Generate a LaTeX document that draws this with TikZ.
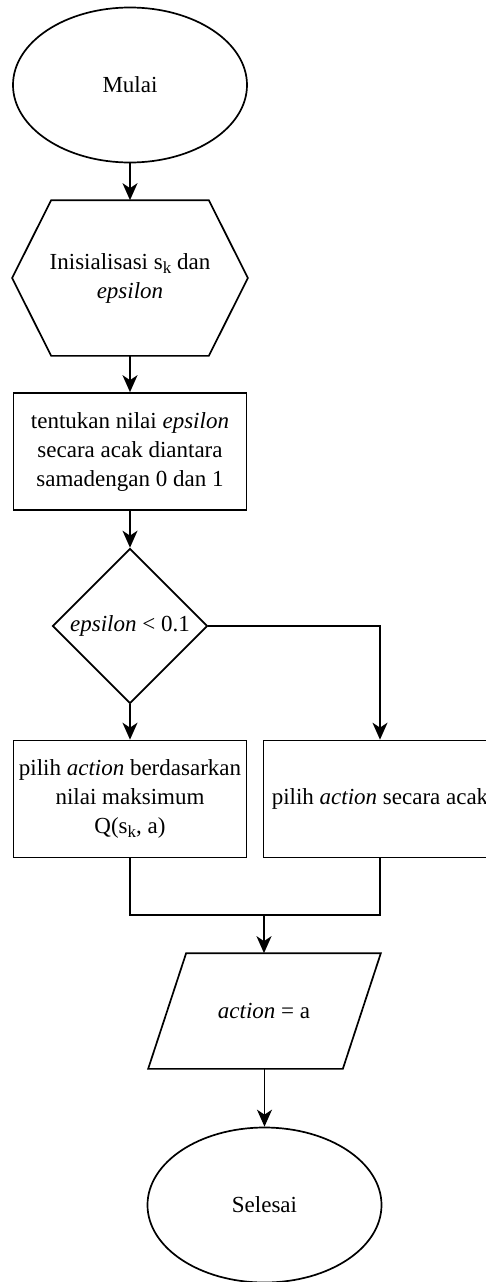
\documentclass[tikz,border=0pt]{standalone}
\usepackage{fontspec}
\setmainfont{Liberation Serif}
\usetikzlibrary{shapes.geometric,arrows.meta}

\newcommand{\idx}[1]{\raisebox{-0.4ex}{\fontsize{17}{17}\selectfont #1}}

\tikzset{
  base/.style={line width=1.7pt, inner sep=0pt, align=center,
    font=\fontsize{23}{29}\selectfont},
  terminal/.style={base, draw, ellipse, minimum width=234pt, minimum height=155pt},
  prep/.style={base, minimum width=234pt, minimum height=154pt},
  process/.style={base, draw, rectangle, minimum width=233pt, minimum height=117pt},
  decision/.style={base, draw, diamond, aspect=1, minimum width=155pt, minimum height=155pt},
  io/.style={base, minimum width=193pt, minimum height=114pt},
  flow/.style={line width=1.7pt, -{Stealth[length=17pt,width=15pt,inset=5pt]}},
  link/.style={line width=1.7pt}
}

\begin{document}
\begin{tikzpicture}[x=1pt, y=-1pt]
  \clip (0,0) rectangle (486,1282);

  \node[terminal] (mulai) at (130,85) {Mulai};
  \node[prep] (init) at (130,278) {Inisialisasi s\idx{k} dan\\\textit{epsilon}};
  \draw[link] (init.west) -- ([xshift=39pt]init.north west) -- ([xshift=-39pt]init.north east)
    -- (init.east) -- ([xshift=-39pt]init.south east) -- ([xshift=39pt]init.south west) -- cycle;
  \node[process] (acak) at (130,451.5) {tentukan nilai \textit{epsilon}\\secara acak diantara\\samadengan 0 dan 1};
  \node[decision] (cek) at (130,626) {\textit{epsilon} < 0.1};
  \node[process] (maks) at (130,799) {pilih \textit{action} berdasarkan\\nilai maksimum\\Q(s\idx{k}, a)};
  \node[process] (rand) at (380,799) {pilih \textit{action} secara acak};
  \node[io] (aksi) at (264,1011) {\textit{action} = a};
  \draw[link] ([xshift=19.5pt]aksi.north west) -- ([xshift=19.5pt]aksi.north east)
    -- ([xshift=-18.5pt]aksi.south east) -- ([xshift=-18.5pt]aksi.south west) -- cycle;
  \node[terminal] (selesai) at (264.5,1205) {Selesai};

  \coordinate (gabung) at (264,915);

  \draw[flow] (mulai) -- (init);
  \draw[flow] (init) -- (acak);
  \draw[flow] (acak) -- (cek);
  \draw[flow] (cek) -- (maks);
  \draw[flow] (cek.east) -| (rand.north);

  \draw[link] (maks.south) |- (gabung) -| (rand.south);
  \draw[flow] (gabung) -- (aksi);
  \draw[flow] (selesai.north |- aksi.south) -- (selesai);
\end{tikzpicture}
\end{document}
